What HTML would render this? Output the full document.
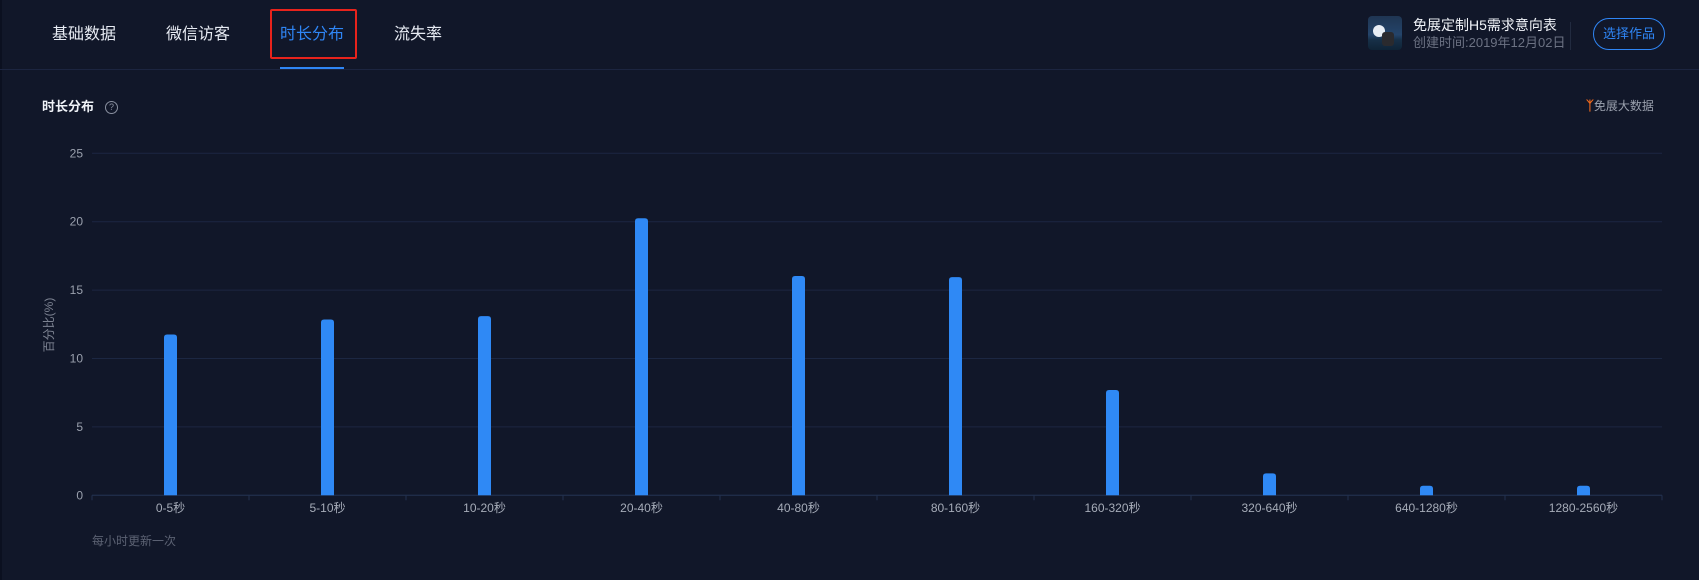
<!DOCTYPE html>
<html><head><meta charset="utf-8">
<style>
html,body{margin:0;padding:0;}
body{width:1699px;height:580px;background:#111729;position:relative;overflow:hidden;font-family:"Liberation Sans","Noto Sans CJK SC",sans-serif;}
.abs{position:absolute;white-space:nowrap;}
.tab{position:absolute;top:24px;font-size:16px;color:#e8ecf4;line-height:22px;}
</style></head>
<body>
<div class="abs" style="left:0;top:0;width:2px;height:580px;background:#0b1020"></div>
<div class="tab" style="left:52px">基础数据</div>
<div class="tab" style="left:166px">微信访客</div>
<div class="tab" style="left:280px;color:#2f86f6">时长分布</div>
<div class="tab" style="left:394px">流失率</div>
<div class="abs" style="left:270px;top:9px;width:83px;height:46px;border:2px solid #e8231c;border-radius:2px"></div>
<div class="abs" style="left:280px;top:67px;width:64px;height:3px;background:#2f86f6"></div>
<div class="abs" style="left:0;top:69px;width:1699px;height:1px;background:#1c2540"></div>

<div class="abs" style="left:1368px;top:16px;width:34px;height:34px;border-radius:4px;background:linear-gradient(#1f3552 0%,#24446a 55%,#173048 70%,#0f2336 100%);overflow:hidden">
  <div style="position:absolute;left:5px;top:9px;width:12px;height:12px;border-radius:50%;background:#e8eef5"></div>
  <div style="position:absolute;left:14px;top:16px;width:12px;height:14px;background:#2a2a2e;border-radius:3px"></div>
</div>
<div class="abs" style="left:1413px;top:16px;font-size:14px;color:#f0f3f8;line-height:18px">免展定制H5需求意向表</div>
<div class="abs" style="left:1413px;top:34px;font-size:13px;color:#6c7283;line-height:17px">创建时间:2019年12月02日</div>
<div class="abs" style="left:1570px;top:22px;width:1px;height:28px;background:#222b40"></div>
<div class="abs" style="left:1593px;top:18px;width:70px;height:30px;border:1px solid #2f86f6;border-radius:16px;color:#2f86f6;font-size:13px;line-height:30px;text-align:center">选择作品</div>

<div class="abs" style="left:42px;top:98px;font-size:13px;font-weight:bold;color:#f0f3f8;line-height:18px">时长分布</div>
<div class="abs" style="left:105px;top:101px;width:11px;height:11px;border:1px solid #8a90a0;border-radius:50%;color:#8a90a0;font-size:9px;line-height:11px;text-align:center">?</div>
<div class="abs" style="left:1586px;top:97px;font-size:12px;color:#9ba1ae;line-height:18px">
  <span style="color:#f0691c;font-size:13px;font-weight:bold">ᛉ</span>免展大数据</div>

<svg class="abs" id="chart" style="left:0;top:0" width="1699" height="580"></svg>
<div class="abs" style="left:92px;top:533px;font-size:12px;color:#5c6273;line-height:16px">每小时更新一次</div>

<script>
const categories=["0-5秒","5-10秒","10-20秒","20-40秒","40-80秒","80-160秒","160-320秒","320-640秒","640-1280秒","1280-2560秒"];
const values=[11.75,12.85,13.1,20.25,16.03,15.95,7.7,1.6,0.7,0.7];
const yTicks=[0,5,10,15,20,25];
const NS="http://www.w3.org/2000/svg";
const svg=document.getElementById("chart");
const X0=92,X1=1662,Y0=495.3,YT=153.3,YMAX=25;
const band=(X1-X0)/categories.length;
const xc=i=>X0+band*(i+0.5);
const y=v=>Y0-(v/YMAX)*(Y0-YT);
function mk(t,a){const e=document.createElementNS(NS,t);for(const k in a)e.setAttribute(k,a[k]);svg.appendChild(e);return e;}
yTicks.forEach(v=>{
  const l=mk("line",{x1:X0,x2:X1,y1:y(v),y2:y(v),stroke:"#1c2742","stroke-width":1});
  
  
  const t=mk("text",{x:83,y:y(v)+4,"text-anchor":"end","font-size":12,fill:"#9aa0ad","font-family":"Liberation Sans, sans-serif"});
  t.textContent=v;
  
  
});
const ax=mk("line",{x1:X0,x2:X1,y1:Y0,y2:Y0,stroke:"#22304f","stroke-width":1});


for(let i=0;i<=categories.length;i++){
  const tk=mk("line",{x1:X0+band*i,x2:X0+band*i,y1:Y0,y2:Y0+5,stroke:"#22304f"});
  
  
}
categories.forEach((c,i)=>{
  const w=13,top=y(values[i]),h=Y0-top,r=Math.min(3,h/2);
  const p=mk("path",{d:`M${xc(i)-w/2},${Y0} V${top+r} Q${xc(i)-w/2},${top} ${xc(i)-w/2+r},${top} H${xc(i)+w/2-r} Q${xc(i)+w/2},${top} ${xc(i)+w/2},${top+r} V${Y0} Z`,fill:"#2f89f5"});
  
  
  const t=mk("text",{x:xc(i),y:512,"text-anchor":"middle","font-size":12,fill:"#a6acb8","font-family":"Liberation Sans, Noto Sans CJK SC, sans-serif"});
  t.textContent=c;
  
  
});
const yt=mk("text",{x:0,y:0,transform:"translate(53,325) rotate(-90)","text-anchor":"middle","font-size":12,fill:"#7d8392","font-family":"Liberation Sans, Noto Sans CJK SC, sans-serif"});
yt.textContent="百分比(%)";


</script>
</body></html>
